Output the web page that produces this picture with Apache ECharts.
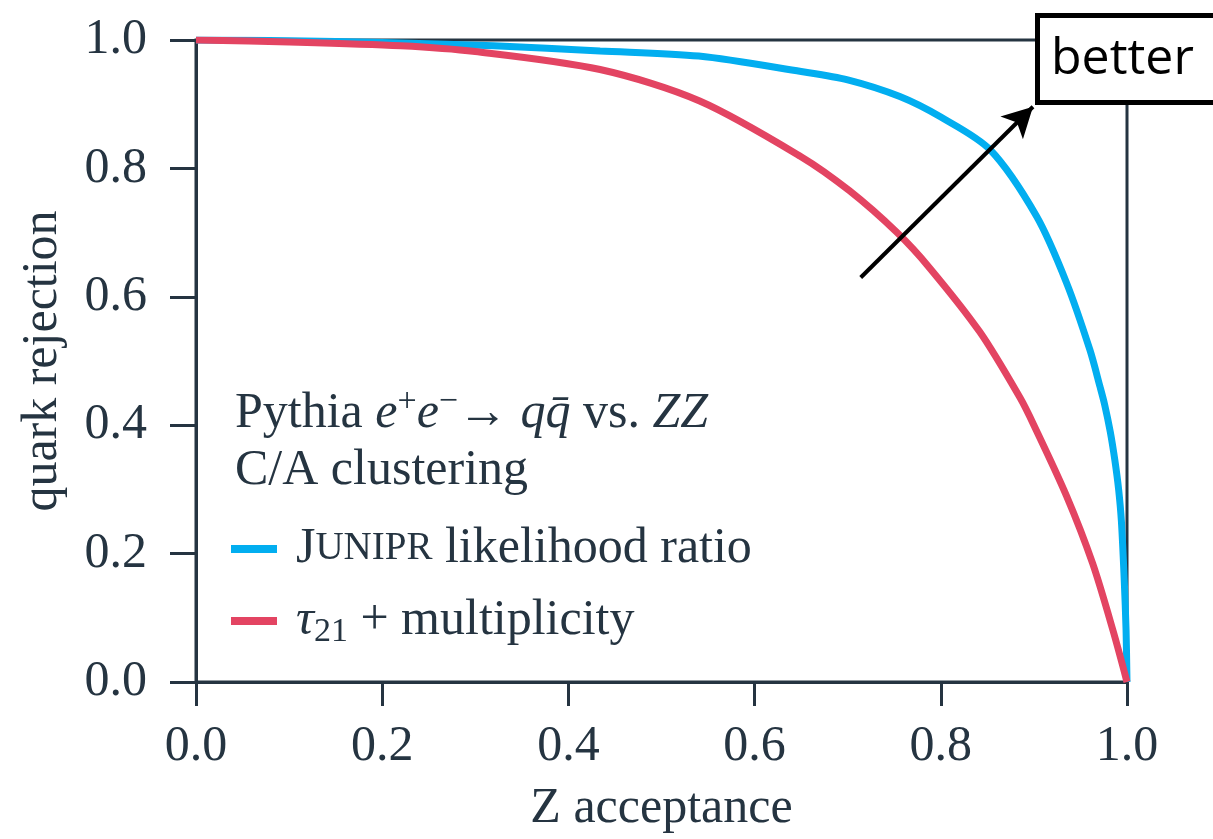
<!DOCTYPE html>
<html>
<head>
<meta charset="utf-8">
<script src="https://cdn.jsdelivr.net/npm/echarts@6/dist/echarts.min.js"></script>
<style>
  html, body { margin: 0; padding: 0; background: #fff; }
  #chart { width: 1213px; height: 839px; }
</style>
</head>
<body>
<div id="chart"></div>
<script>
// curves: [Z acceptance, quark rejection]
var juniprCurve = [
  [0.0, 1.0], [0.1, 0.999], [0.2, 0.996], [0.32, 0.991], [0.434, 0.983],
  [0.54, 0.975], [0.65, 0.951], [0.7, 0.938], [0.756, 0.912], [0.8, 0.88],
  [0.853, 0.829], [0.903, 0.725], [0.935, 0.622], [0.96, 0.518], [0.971, 0.46],
  [0.976, 0.432], [0.982, 0.39], [0.987, 0.345], [0.991, 0.3], [0.994, 0.25],
  [0.997, 0.16], [0.999, 0.08], [1.0, 0.0]
]
var tauCurve = [
  [0.0, 1.0], [0.1, 0.997], [0.22, 0.991], [0.3, 0.982], [0.434, 0.954],
  [0.541, 0.905], [0.649, 0.819], [0.702, 0.765], [0.753, 0.7], [0.788, 0.645],
  [0.842, 0.545], [0.885, 0.443], [0.9, 0.4], [0.935, 0.29], [0.963, 0.185],
  [0.985, 0.08], [1.0, 0.0]
]
var seriesNames = ['junipr', 'tau']
var arrowFrom = [0.714, 0.63]
var arrowTo = [0.899, 0.896]

var ink = '#253441'
var serif = '"Liberation Serif", "DejaVu Serif", serif'

var myChart = echarts.init(document.getElementById('chart'))
myChart.setOption({
  animation: false,
  backgroundColor: '#fff',
  grid: {
    left: 196, right: 86, top: 40, bottom: 156,
    show: true, borderColor: ink, borderWidth: 3
  },
  title: {
    left: 230, top: 380,
    text: 'Pythia {i|e}{sup|+}{i|e}{sup|−}{n|→ }{i|q}{i|q̄}{n| vs. }{i|ZZ}\nC/A clustering',
    textStyle: {
      fontFamily: serif, fontSize: 50, fontWeight: 'normal', color: ink, lineHeight: 57,
      rich: {
        i: { fontFamily: serif, fontSize: 50, fontStyle: 'italic', color: ink, lineHeight: 57 },
        n: { fontFamily: serif, fontSize: 50, color: ink, lineHeight: 57 },
        sup: { fontFamily: serif, fontSize: 34, color: ink, verticalAlign: 'top', lineHeight: 57, padding: [0, 0, 20, 0] }
      }
    }
  },
  legend: {
    orient: 'vertical', left: 226, top: 516,
    itemWidth: 46, itemHeight: 8, itemGap: 16, icon: 'rect',
    data: seriesNames,
    formatter: function (name) {
      if (name === 'junipr') return '{big|J}{sc|UNIPR}{n| likelihood ratio}'
      return '{i|τ}{sub|21}{n| + multiplicity}'
    },
    textStyle: {
      color: ink, fontFamily: serif, fontSize: 50, lineHeight: 56, padding: [0, 0, 0, 14],
      rich: {
        big: { fontFamily: serif, fontSize: 50, color: ink, lineHeight: 56 },
        sc: { fontFamily: serif, fontSize: 39, color: ink, lineHeight: 56 },
        n: { fontFamily: serif, fontSize: 50, color: ink, lineHeight: 56 },
        i: { fontFamily: serif, fontSize: 50, fontStyle: 'italic', color: ink, lineHeight: 56 },
        sub: { fontFamily: serif, fontSize: 34, color: ink, verticalAlign: 'bottom', lineHeight: 56, padding: [18, 0, 0, 0] }
      }
    }
  },
  xAxis: {
    type: 'value', min: 0, max: 1, interval: 0.2,
    name: 'Z acceptance', nameLocation: 'middle', nameGap: 102,
    nameTextStyle: { fontFamily: serif, fontSize: 50, color: ink },
    axisLine: { lineStyle: { color: ink, width: 3 } },
    axisTick: { inside: false, length: 24, lineStyle: { color: ink, width: 3 } },
    axisLabel: { margin: 40, fontFamily: serif, fontSize: 50, color: ink, formatter: function (v) { return v.toFixed(1) } },
    splitLine: { show: false }
  },
  yAxis: {
    type: 'value', min: 0, max: 1, interval: 0.2,
    name: 'quark rejection', nameLocation: 'middle', nameGap: 128,
    nameTextStyle: { fontFamily: serif, fontSize: 50, color: ink },
    axisLine: { show: true, lineStyle: { color: ink, width: 3 } },
    axisTick: { show: true, inside: false, length: 26, lineStyle: { color: ink, width: 3 } },
    axisLabel: { margin: 49, fontFamily: serif, fontSize: 50, color: ink, formatter: function (v) { return v.toFixed(1) } },
    splitLine: { show: false }
  },
  series: [
    {
      name: 'junipr', type: 'line', data: juniprCurve, smooth: 0.3, showSymbol: false,
      lineStyle: { color: '#02aef0', width: 7 }, itemStyle: { color: '#02aef0' }, z: 3,
      markLine: {
        silent: true, symbol: ['none', 'arrow'], symbolSize: [24, 30],
        label: { show: false },
        lineStyle: { color: '#000', width: 4, type: 'solid' },
        data: [[{ coord: arrowFrom }, { coord: arrowTo }]]
      }
    },
    {
      name: 'tau', type: 'line', data: tauCurve, smooth: 0.3, showSymbol: false,
      lineStyle: { color: '#e34462', width: 7 }, itemStyle: { color: '#e34462' }, z: 4
    }
  ],
  graphic: [
    {
      type: 'rect', z: 100,
      shape: { x: 1037.5, y: 15.5, width: 260, height: 87 },
      style: { fill: '#fff', stroke: '#000', lineWidth: 5 }
    },
    {
      type: 'text', z: 101, x: 1051, y: 60,
      style: {
        text: 'better', fill: '#000', font: '50px "Open Sans", "DejaVu Sans", sans-serif',
        verticalAlign: 'middle'
      }
    }
  ]
})
</script>
</body>
</html>
